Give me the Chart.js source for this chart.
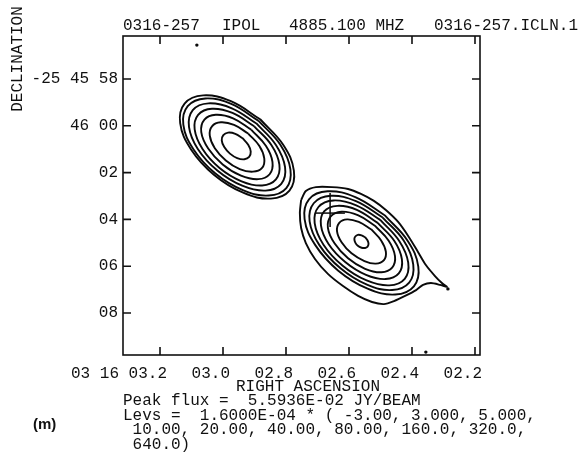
<!DOCTYPE html>
<html>
<head>
<meta charset="utf-8">
<script src="https://cdn.jsdelivr.net/npm/chart.js@4.4.1/dist/chart.umd.min.js"></script>
<style>
  body { margin: 0; background: #fff; }
  canvas { display: block; }
</style>
</head>
<body>
<canvas id="map" width="579" height="459"></canvas>
<script>
// Contour map 0316-257, RA seconds (03 16 xx.x) vs Dec seconds past -25 45 00
const raTicks = [3.2, 3.0, 2.8, 2.6, 2.4, 2.2];
const raLabels = ['03 16 03.2', '03.0', '02.8', '02.6', '02.4', '02.2'];
const decTicks = [58, 60, 62, 64, 66, 68];
const decLabels = ['-25 45 58', '46 00', '02', '04', '06', '08'];

const titleParts = ['0316-257', 'IPOL', '4885.100 MHZ', '0316-257.ICLN.1'];
const footerLines = [
    'Peak flux =  5.5936E-02 JY/BEAM',
    'Levs =  1.6000E-04 * ( -3.00, 3.000, 5.000,',
    ' 10.00, 20.00, 40.00, 80.00, 160.0, 320.0,',
    ' 640.0)'
];

// north-west component, outer to inner
const ringA1 = [[2.789,62.77],[2.775,61.92],[2.809,60.81],[2.882,59.72],[2.975,58.95],[3.063,58.70],[3.122,59.05],[3.136,59.89],[3.102,61.00],[3.029,62.09],[2.936,62.86],[2.848,63.11]];
const ringA2 = [[2.799,62.66],[2.786,61.86],[2.818,60.81],[2.887,59.79],[2.974,59.06],[3.056,58.83],[3.112,59.16],[3.126,59.95],[3.094,61.00],[3.025,62.03],[2.937,62.75],[2.855,62.98]];
const ringA3 = [[2.815,62.48],[2.803,61.77],[2.832,60.82],[2.894,59.90],[2.972,59.25],[3.046,59.04],[3.096,59.33],[3.108,60.05],[3.080,60.99],[3.018,61.91],[2.939,62.56],[2.865,62.77]];
const ringA4 = [[2.832,62.29],[2.821,61.66],[2.846,60.83],[2.901,60.02],[2.970,59.45],[3.035,59.27],[3.079,59.53],[3.090,60.15],[3.065,60.99],[3.011,61.80],[2.941,62.37],[2.876,62.55]];
const ringA5 = [[2.852,62.07],[2.843,61.54],[2.864,60.85],[2.910,60.17],[2.968,59.68],[3.023,59.53],[3.059,59.74],[3.069,60.27],[3.047,60.97],[3.001,61.65],[2.943,62.13],[2.888,62.28]];
const ringA6 = [[2.876,61.80],[2.869,61.39],[2.885,60.85],[2.920,60.33],[2.965,59.96],[3.007,59.85],[3.035,60.02],[3.042,60.42],[3.026,60.96],[2.991,61.48],[2.947,61.85],[2.905,61.96]];
const ringA7 = [[2.917,61.33],[2.912,61.10],[2.920,60.81],[2.938,60.53],[2.961,60.34],[2.984,60.29],[2.999,60.40],[3.004,60.62],[2.996,60.91],[2.978,61.19],[2.955,61.38],[2.932,61.43]];

// south-east component, outer to inner
const ringB1 = [[2.752,63.17],[2.737,62.79],[2.705,62.62],[2.654,62.62],[2.603,62.70],[2.562,62.91],[2.521,63.21],[2.483,63.60],[2.444,64.11],[2.410,64.75],[2.381,65.39],[2.356,65.95],[2.327,66.42],[2.305,66.72],[2.289,66.89],[2.311,66.80],[2.340,66.72],[2.365,66.80],[2.387,67.02],[2.422,67.27],[2.457,67.49],[2.489,67.62],[2.527,67.53],[2.571,67.27],[2.619,66.85],[2.667,66.33],[2.708,65.69],[2.737,65.01],[2.752,64.37],[2.756,63.73]];
const ringB2 = [[2.394,66.86],[2.380,66.02],[2.414,64.91],[2.487,63.82],[2.580,63.05],[2.668,62.80],[2.727,63.14],[2.741,63.99],[2.707,65.10],[2.634,66.19],[2.541,66.96],[2.453,67.21]];
const ringB3 = [[2.409,66.70],[2.396,65.93],[2.426,64.91],[2.493,63.92],[2.578,63.22],[2.658,62.99],[2.712,63.31],[2.725,64.08],[2.694,65.10],[2.627,66.09],[2.543,66.79],[2.463,67.02]];
const ringB4 = [[2.423,66.54],[2.412,65.85],[2.440,64.93],[2.500,64.03],[2.577,63.40],[2.649,63.19],[2.697,63.47],[2.709,64.16],[2.681,65.08],[2.620,65.98],[2.544,66.61],[2.472,66.82]];
const ringB5 = [[2.442,66.31],[2.432,65.71],[2.456,64.92],[2.509,64.15],[2.575,63.59],[2.637,63.42],[2.679,63.66],[2.689,64.26],[2.665,65.05],[2.612,65.82],[2.546,66.37],[2.484,66.55]];
const ringB6 = [[2.463,66.06],[2.454,65.57],[2.474,64.91],[2.518,64.27],[2.572,63.82],[2.624,63.67],[2.658,63.87],[2.667,64.36],[2.646,65.02],[2.603,65.66],[2.549,66.11],[2.497,66.26]];
const ringB7 = [[2.489,65.74],[2.483,65.38],[2.498,64.90],[2.529,64.43],[2.569,64.11],[2.606,64.00],[2.631,64.15],[2.638,64.51],[2.623,64.99],[2.592,65.45],[2.551,65.78],[2.515,65.89]];
const ringB8 = [[2.541,65.16],[2.538,65.04],[2.541,64.90],[2.549,64.76],[2.560,64.68],[2.572,64.66],[2.580,64.73],[2.583,64.84],[2.580,64.99],[2.572,65.13],[2.560,65.21],[2.549,65.22]];

const crossH = [[2.708,63.73],[2.613,63.73]];
const crossV = [[2.660,62.87],[2.660,64.32]];
const specks = [[3.083,56.55],[2.286,66.97],[2.356,69.67]];

const MONO = "'Liberation Mono', 'DejaVu Sans Mono', monospace";

function toXY(pts, close) {
    const out = pts.map(p => ({x: p[0], y: p[1]}));
    if (close) out.push({x: pts[0][0], y: pts[0][1]});
    return out;
}

// start/close each ring on its flat side so the join does not show
function contour(pts, tension, start) {
    const ordered = pts.slice(start).concat(pts.slice(0, start));
    return {
        data: toXY(ordered, true),
        showLine: true,
        borderColor: '#0a0a0a',
        borderWidth: 1.9,
        pointRadius: 0,
        tension: tension,
        fill: false
    };
}

const datasets = [
    ringA1, ringA2, ringA3, ringA4, ringA5, ringA6, ringA7,
    ringB2, ringB3, ringB4, ringB5, ringB6, ringB7, ringB8
].map(r => contour(r, 0.4, 3));
datasets.push(contour(ringB1, 0.25, 0));
[crossH, crossV].forEach(seg => datasets.push({
    data: toXY(seg, false), showLine: true, borderColor: '#0a0a0a',
    borderWidth: 1.5, pointRadius: 0, tension: 0
}));
datasets.push({
    data: toXY(specks, false), showLine: false, pointRadius: 1.7,
    pointBackgroundColor: '#0a0a0a', pointBorderWidth: 0
});

// frame, inward tick marks and the text blocks round the plot
const framePlugin = {
    id: 'frame',
    afterDraw(chart) {
        const ctx = chart.ctx;
        const a = chart.chartArea;
        const xs = chart.scales.x, ys = chart.scales.y;
        ctx.save();
        ctx.strokeStyle = '#111';
        ctx.lineWidth = 1.6;
        ctx.strokeRect(a.left, a.top, a.right - a.left, a.bottom - a.top);
        ctx.beginPath();
        raTicks.forEach(v => {
            const px = xs.getPixelForValue(v);
            ctx.moveTo(px, a.bottom); ctx.lineTo(px, a.bottom - 8);
            ctx.moveTo(px, a.top); ctx.lineTo(px, a.top + 8);
        });
        decTicks.forEach(v => {
            const py = ys.getPixelForValue(v);
            ctx.moveTo(a.left, py); ctx.lineTo(a.left + 8, py);
            ctx.moveTo(a.right, py); ctx.lineTo(a.right - 8, py);
        });
        ctx.stroke();

        ctx.fillStyle = '#111';
        ctx.font = '16px ' + MONO;
        ctx.textBaseline = 'alphabetic';
        ctx.textAlign = 'left';
        const titleX = [123, 222, 289, 434];
        titleParts.forEach((t, i) => ctx.fillText(t, titleX[i], 30));

        ctx.textAlign = 'center';
        ctx.fillText('RIGHT ASCENSION', 308, 391);

        ctx.textAlign = 'left';
        footerLines.forEach((t, i) => ctx.fillText(t, 123, 405 + i * 14.5));

        ctx.save();
        ctx.translate(22, 59);
        ctx.rotate(-Math.PI / 2);
        ctx.textAlign = 'center';
        ctx.fillText('DECLINATION', 0, 0);
        ctx.restore();

        ctx.font = "bold 15px 'Liberation Sans', Arial, sans-serif";
        ctx.fillText('(m)', 33, 429);
        ctx.restore();
    }
};

new Chart(document.getElementById('map'), {
    type: 'scatter',
    data: { datasets: datasets },
    options: {
        responsive: false,
        animation: false,
        devicePixelRatio: 1,
        layout: { padding: { left: 0, top: 36, right: 99, bottom: 0 } },
        plugins: { legend: { display: false }, tooltip: { enabled: false } },
        scales: {
            x: {
                type: 'linear',
                reverse: true,
                min: 2.1841,
                max: 3.3175,
                grid: { display: false, drawTicks: false },
                border: { display: false },
                afterBuildTicks: s => { s.ticks = raTicks.map(v => ({ value: v })); },
                afterFit: s => { s.height = 104; },
                ticks: {
                    color: '#111',
                    font: { family: MONO, size: 16 },
                    padding: 9,
                    align: 'end',
                    labelOffset: 7,
                    maxRotation: 0,
                    autoSkip: false,
                    callback: (v, i) => raLabels[i]
                }
            },
            y: {
                type: 'linear',
                reverse: true,
                min: 56.162,
                max: 69.795,
                grid: { display: false, drawTicks: false },
                border: { display: false },
                afterBuildTicks: s => { s.ticks = decTicks.map(v => ({ value: v })); },
                afterFit: s => { s.width = 123; },
                ticks: {
                    color: '#111',
                    font: { family: MONO, size: 16 },
                    padding: 5,
                    autoSkip: false,
                    callback: (v, i) => decLabels[i]
                }
            }
        }
    },
    plugins: [framePlugin]
});
</script>
</body>
</html>
